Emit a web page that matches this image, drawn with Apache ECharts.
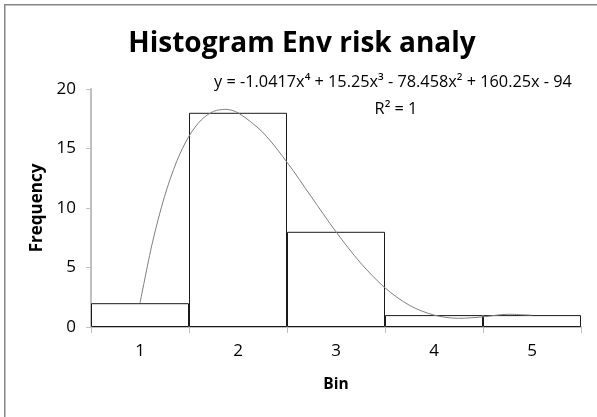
<!DOCTYPE html>
<html>
<head>
<meta charset="utf-8">
<script src="https://cdn.jsdelivr.net/npm/echarts@6/dist/echarts.min.js"></script>
<style>
html,body{margin:0;padding:0;background:#fff;}
#chart{width:597px;height:417px;}
</style>
</head>
<body>
<div id="chart"></div>
<script>
// ---- data ----
const titleText = 'Histogram Env risk analy';
const bins = ['1', '2', '3', '4', '5'];
const frequency = [2, 18, 8, 1, 1];
const yTicks = [0, 5, 10, 15, 20];
const equationText = 'y = -1.0417x\u2074 + 15.25x\u00B3 - 78.458x\u00B2 + 160.25x - 94';
const r2Text = 'R\u00B2 = 1';
// trendline (4th-order polynomial) values
const trendX = [1, 1.125, 1.25, 1.375, 1.5, 1.625, 1.75, 1.875, 2, 2.25, 2.5, 2.75, 3, 3.25, 3.5, 3.75, 4, 4.25, 4.5, 4.75, 5];
const trendY = [2.0, 7.03, 10.96, 13.93, 16.04, 17.40, 18.12, 18.29, 18.0, 16.38, 13.85, 10.92, 8.0, 5.39, 3.29, 1.82, 1.0, 0.73, 0.85, 1.07, 0.99];

const FONT = '"Open Sans", "Liberation Sans", sans-serif';
const chart = echarts.init(document.getElementById('chart'), null, {renderer: 'canvas'});

chart.setOption({
  animation: false,
  backgroundColor: '#ffffff',
  grid: {left: 91, right: 16, top: 89, bottom: 90, containLabel: false},
  xAxis: [
    {
      type: 'category',
      data: bins,
      boundaryGap: true,
      name: 'Bin',
      nameLocation: 'middle',
      nameGap: 50,
      nameTextStyle: {fontFamily: FONT, fontWeight: 'bold', fontSize: 15.5, color: '#000'},
      axisLine: {lineStyle: {color: '#bfbfbf', width: 2}},
      axisTick: {show: true, length: 6, lineStyle: {color: '#bfbfbf', width: 1}},
      axisLabel: {fontFamily: FONT, fontSize: 17, color: '#000', margin: 16},
      splitLine: {show: false}
    },
    {
      type: 'value',
      min: 0.5,
      max: 5.5,
      show: false
    }
  ],
  yAxis: {
    type: 'value',
    min: yTicks[0],
    max: yTicks[yTicks.length - 1],
    interval: yTicks[1] - yTicks[0],
    name: 'Frequency',
    nameLocation: 'middle',
    nameRotate: 90,
    nameGap: 43,
    nameTextStyle: {fontFamily: FONT, fontWeight: 'bold', fontSize: 17, color: '#000'},
    axisLine: {show: true, lineStyle: {color: '#bfbfbf', width: 2}},
    axisTick: {show: true, length: 5, lineStyle: {color: '#bfbfbf', width: 1}},
    axisLabel: {fontFamily: FONT, fontSize: 17, color: '#000', margin: 15},
    splitLine: {show: false}
  },
  series: [
    {
      type: 'bar',
      data: frequency,
      barWidth: '100%',
      barGap: '0%',
      itemStyle: {color: '#ffffff', borderColor: '#1a1a1a', borderWidth: 1},
      silent: true
    },
    {
      type: 'line',
      xAxisIndex: 1,
      data: trendX.map((x, i) => [x, trendY[i]]),
      smooth: 0.3,
      showSymbol: false,
      lineStyle: {color: '#7f7f7f', width: 1},
      z: 5,
      silent: true
    }
  ],
  graphic: [
    {type: 'rect', shape: {x: 4.75, y: 4.75, width: 640, height: 460},
     style: {fill: 'none', stroke: '#868686', lineWidth: 1.5}, silent: true},
    {type: 'text', x: 302, y: 44,
     style: {text: titleText, font: 'bold 28px ' + FONT, fill: '#000', textAlign: 'center', textVerticalAlign: 'middle'}},
    {type: 'text', x: 393, y: 82,
     style: {text: equationText, font: '16.3px ' + FONT, fill: '#000', textAlign: 'center', textVerticalAlign: 'middle'}},
    {type: 'text', x: 396, y: 109,
     style: {text: r2Text, font: '16.3px ' + FONT, fill: '#000', textAlign: 'center', textVerticalAlign: 'middle'}}
  ]
});
</script>
</body>
</html>
